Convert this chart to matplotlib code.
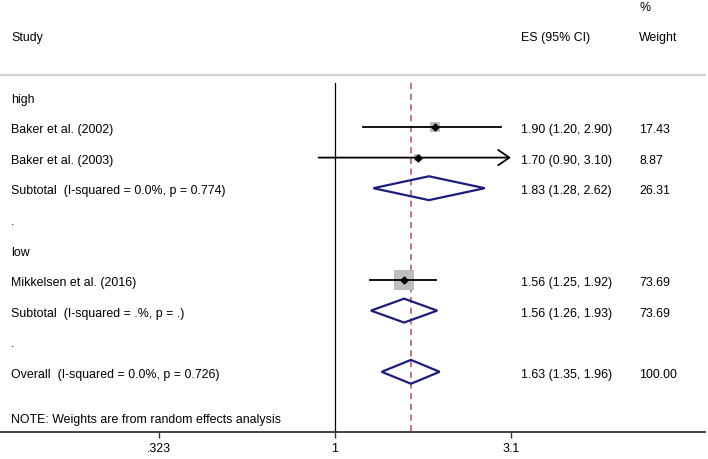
import numpy as np
import matplotlib
matplotlib.use("Agg")
import matplotlib.pyplot as plt
import matplotlib.transforms as mtransforms

plt.rcParams['font.family'] = ['Liberation Sans', 'DejaVu Sans']

# ---- data ----
row_labels = ["high", "Baker et al. (2002)", "Baker et al. (2003)",
              "Subtotal  (I-squared = 0.0%, p = 0.774)", ".", "low",
              "Mikkelsen et al. (2016)", "Subtotal  (I-squared = .%, p = .)",
              ".", "Overall  (I-squared = 0.0%, p = 0.726)"]
row_kind = ["head", "study", "study", "sub", "blank", "head", "study", "sub", "blank", "sub"]
es = [None, 1.90, 1.70, 1.83, None, None, 1.56, 1.56, None, 1.63]
lo = [None, 1.20, 0.90, 1.28, None, None, 1.25, 1.26, None, 1.35]
hi = [None, 2.90, 3.10, 2.62, None, None, 1.92, 1.93, None, 1.96]
es_text = ["", "1.90 (1.20, 2.90)", "1.70 (0.90, 3.10)", "1.83 (1.28, 2.62)", "", "",
           "1.56 (1.25, 1.92)", "1.56 (1.26, 1.93)", "", "1.63 (1.35, 1.96)"]
weights = [None, 17.43, 8.87, 26.31, None, None, 73.69, 73.69, None, 100.00]
weight_text = ["", "17.43", "8.87", "26.31", "", "", "73.69", "73.69", "", "100.00"]
overall_es = 1.63
tick_vals = [0.323, 1, 3.1]
tick_labels = [".323", "1", "3.1"]
note = "NOTE: Weights are from random effects analysis"

W, H = 708, 460
fig = plt.figure(figsize=(W / 100, H / 100), dpi=100)
ax = fig.add_axes([0, 27 / H, 705 / W, 433 / H])
ax.set_xscale('log')
ax.set_xlim(10 ** (-335 / 358), 10 ** ((705 - 335) / 358))
ax.set_ylim(10.967, -3.183)

for s in ['top', 'right', 'left']:
    ax.spines[s].set_visible(False)
ax.spines['bottom'].set_color('#333333')
ax.spines['bottom'].set_linewidth(1.3)
ax.set_yticks([])
ax.set_xticks(tick_vals)
ax.set_xticklabels(tick_labels)
ax.xaxis.set_minor_locator(matplotlib.ticker.NullLocator())
fs = 8.9
ax.tick_params(axis='x', direction='out', length=4, width=1, color='#333333',
               labelsize=fs, pad=3)

trans = mtransforms.blended_transform_factory(ax.transAxes, ax.transData)
x_lab = 11 / 705
x_es = 521 / 705
x_w = 639 / 705

# header
ax.text(x_lab, -1.94, "Study", transform=trans, fontsize=fs, va='center', ha='left', clip_on=False)
ax.text(x_es, -1.94, "ES (95% CI)", transform=trans, fontsize=fs, va='center', ha='left', clip_on=False)
ax.text(x_w, -1.94, "Weight", transform=trans, fontsize=fs, va='center', ha='left', clip_on=False)
ax.text(x_w, -2.92, "%", transform=trans, fontsize=fs, va='center', ha='left', clip_on=False)
ax.axhline(-0.699, color='#d3d3d3', lw=1.6, clip_on=False)

# reference lines
ax.plot([1, 1], [-0.435, 10.967], color='black', lw=0.9)
ax.plot([overall_es, overall_es], [-0.435, 10.967], color='#b0505c', lw=1.1,
        dashes=(4, 3))

ref_w = max(w for w, k in zip(weights, row_kind) if k == "study")
for i, (lab, kind) in enumerate(zip(row_labels, row_kind)):
    ax.text(x_lab, i + 0.07, lab, transform=trans, fontsize=fs, va='center', ha='left')
    if es_text[i]:
        ax.text(x_es, i + 0.07, es_text[i], transform=trans, fontsize=fs, va='center', ha='left')
        ax.text(x_w, i + 0.07, weight_text[i], transform=trans, fontsize=fs, va='center', ha='left')
    if kind == "study":
        side_pt = 14.4 * np.sqrt(weights[i] / ref_w)
        ax.scatter([es[i]], [i], marker='s', s=side_pt ** 2, color='#bdbdbd',
                   edgecolors='none', zorder=3)
        if hi[i] >= tick_vals[-1]:
            ax.annotate("", xy=(hi[i], i), xytext=(lo[i], i),
                        arrowprops=dict(arrowstyle='->,head_length=0.8,head_width=0.55',
                                        color='black', lw=1.3, shrinkA=0, shrinkB=0),
                        zorder=4)
        else:
            ax.plot([lo[i], hi[i]], [i, i], color='black', lw=1.3, zorder=4)
        ax.plot([es[i]], [i], marker='D', ms=3.5, color='black', zorder=5)
    elif kind == "sub":
        h = 0.39
        ax.fill([lo[i], es[i], hi[i], es[i], lo[i]], [i, i - h, i, i + h, i],
                facecolor='none', edgecolor='#1c1c80', lw=1.6, zorder=4)

ax.text(x_lab, 10.54, note, transform=trans, fontsize=fs, va='center', ha='left')

fig.savefig("out.png", dpi=100)
